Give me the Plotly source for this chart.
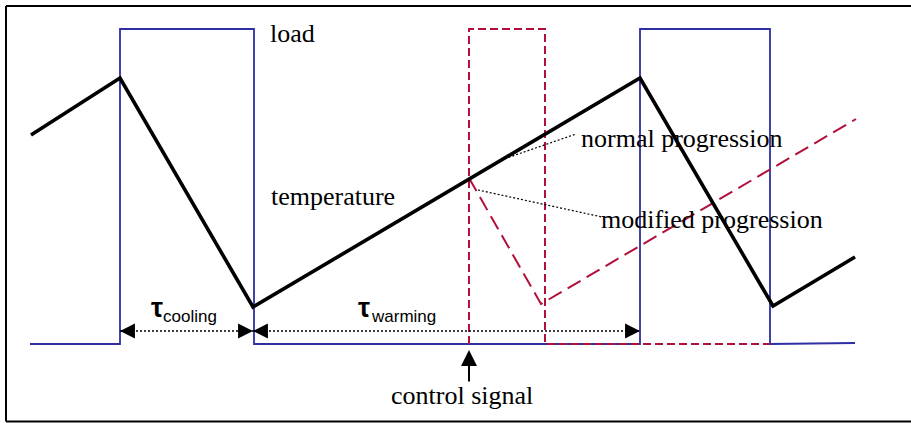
import plotly.graph_objects as go

# ---- data (diagram units: x = time, y = level; origin bottom-left) ----
load_t = [30, 120, 120, 254, 254, 640, 640, 770, 770, 855]
load_v = [79, 79, 394, 394, 79, 79, 394, 394, 79, 80]

control_t = [469, 469, 545, 545, 770]
control_v = [79, 394, 394, 79, 79]

temp_t = [31, 120, 253, 640, 773, 855]
temp_v = [288, 345, 116, 345, 117, 166]

modified_t = [469, 541, 856]
modified_v = [245, 119, 304]

normal_leader_t = [501, 576]
normal_leader_v = [263, 289]
modified_leader_t = [478, 602]
modified_leader_v = [233, 206]

cooling_span = [120, 253]
warming_span = [253, 640]
span_level = 92

control_signal_t = 469
control_arrow_v = [40, 73]

labels = ["load", "temperature", "normal progression", "modified progression", "control signal"]
label_t = [268, 269, 579, 599, 462]
label_v = [389.5, 226.4, 284.4, 203.4, 28]
label_anchor = ["left", "left", "left", "left", "center"]

tau_names = ["cooling", "warming"]
tau_t = [156.5, 363.7]
tau_v = [115.4, 115.4]
sub_t = [161, 368.5]
sub_v = [106.9, 106.9]

BLUE = "#2F2FA3"
RED = "#B0103A"
BLACK = "#000000"

fig = go.Figure()

fig.add_trace(go.Scatter(x=load_t, y=load_v, mode="lines",
                         line=dict(color=BLUE, width=1.8), hoverinfo="skip"))
fig.add_trace(go.Scatter(x=control_t, y=control_v, mode="lines",
                         line=dict(color=RED, width=2, dash="8px,4px"), hoverinfo="skip"))
fig.add_trace(go.Scatter(x=modified_t, y=modified_v, mode="lines",
                         line=dict(color=RED, width=2, dash="15px,7px"), hoverinfo="skip"))
fig.add_trace(go.Scatter(x=temp_t, y=temp_v, mode="lines",
                         line=dict(color=BLACK, width=3.6), hoverinfo="skip"))
fig.add_trace(go.Scatter(x=normal_leader_t, y=normal_leader_v, mode="lines",
                         line=dict(color=BLACK, width=1.2, dash="2px,2px"), hoverinfo="skip"))
fig.add_trace(go.Scatter(x=modified_leader_t, y=modified_leader_v, mode="lines",
                         line=dict(color=BLACK, width=1.2, dash="2px,2px"), hoverinfo="skip"))

# dotted dimension lines
for span in (cooling_span, warming_span):
    fig.add_trace(go.Scatter(x=span, y=[span_level, span_level], mode="lines",
                             line=dict(color=BLACK, width=1.5, dash="2px,2px"), hoverinfo="skip"))

annotations = []
# arrowheads on dimension lines
for span in (cooling_span, warming_span):
    annotations.append(dict(x=span[0], y=span_level, ax=15, ay=0, xref="x", yref="y",
                            text="", showarrow=True, arrowhead=2, arrowsize=2.3,
                            arrowwidth=1.3, arrowcolor=BLACK, standoff=0))
    annotations.append(dict(x=span[1], y=span_level, ax=-15, ay=0, xref="x", yref="y",
                            text="", showarrow=True, arrowhead=2, arrowsize=2.3,
                            arrowwidth=1.3, arrowcolor=BLACK, standoff=0))

# control signal arrow
annotations.append(dict(x=control_signal_t, y=control_arrow_v[1],
                        ax=control_signal_t, ay=control_arrow_v[0],
                        xref="x", yref="y", axref="x", ayref="y",
                        text="", showarrow=True, arrowhead=2, arrowsize=1.6,
                        arrowwidth=2, arrowcolor=BLACK, standoff=0))

for txt, tx, ty, anc in zip(labels, label_t, label_v, label_anchor):
    annotations.append(dict(x=tx, y=ty, xref="x", yref="y", text=txt, showarrow=False,
                            xanchor=anc, yanchor="middle",
                            font=dict(family="Liberation Serif", size=26, color=BLACK)))

for name, tx, ty, sx, sy in zip(tau_names, tau_t, tau_v, sub_t, sub_v):
    annotations.append(dict(x=tx, y=ty, xref="x", yref="y", text="<b>τ</b>", showarrow=False,
                            xanchor="center", yanchor="middle",
                            font=dict(family="Liberation Sans", size=27, color=BLACK)))
    annotations.append(dict(x=sx, y=sy, xref="x", yref="y", text=name, showarrow=False,
                            xanchor="left", yanchor="middle",
                            font=dict(family="Liberation Sans", size=17, color=BLACK)))

# frame (open on the right, as in the reference crop)
shapes = [
    dict(type="line", xref="paper", yref="paper", x0=6/911, x1=1.0, y0=1-6/423, y1=1-6/423,
         line=dict(color=BLACK, width=2)),
    dict(type="line", xref="paper", yref="paper", x0=6/911, x1=1.0, y0=1-421.5/423, y1=1-421.5/423,
         line=dict(color=BLACK, width=2)),
    dict(type="line", xref="paper", yref="paper", x0=6/911, x1=6/911, y0=1-6/423, y1=1-421.5/423,
         line=dict(color=BLACK, width=2)),
]

fig.update_layout(
    width=911, height=423,
    margin=dict(l=0, r=0, t=0, b=0),
    paper_bgcolor="white", plot_bgcolor="white",
    showlegend=False,
    xaxis=dict(range=[0, 911], visible=False, fixedrange=True),
    yaxis=dict(range=[0, 423], visible=False, fixedrange=True),
    annotations=annotations,
    shapes=shapes,
)

fig.write_html("out.html", config={"displayModeBar": False},
               post_script="document.body.style.margin='0';document.body.style.overflow='hidden';")
